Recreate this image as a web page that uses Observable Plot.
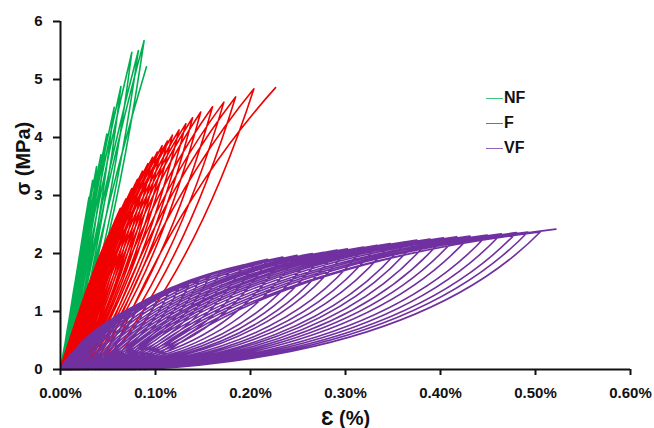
<!DOCTYPE html>
<html>
<head>
<meta charset="utf-8">
<script src="https://cdn.jsdelivr.net/npm/d3@7"></script>
<script src="https://cdn.jsdelivr.net/npm/@observablehq/plot@0.6"></script>
<style>
  html, body { margin: 0; padding: 0; background: #fff; }
  #wrap { position: relative; width: 654px; height: 428px; overflow: hidden; font-family: "Liberation Sans", Arial, sans-serif; }
  .leg { position: absolute; font-weight: bold; font-size: 16px; color: #111; line-height: 16px; }
  .legline { position: absolute; height: 0; border-top: 1.5px solid; opacity: 0.75; }
</style>
</head>
<body>
<div id="wrap"></div>
<script>
// ---- Data ----
const seriesNames = ["NF", "F", "VF"];
const seriesColors = ["#00B050", "#F00000", "#7030A0"];

// NF: peak of each cycle and residual strain at the start of each loading
const nfPeakStrain = [0.006, 0.010, 0.014, 0.018, 0.0215, 0.0245, 0.0268, 0.030, 0.0338, 0.038, 0.0425, 0.0488, 0.0565, 0.0636, 0.0751, 0.082, 0.088, 0.0905];
const nfPeakStress = [0.55, 0.95, 1.35, 1.75, 2.11, 2.40, 2.65, 2.97, 3.26, 3.50, 3.70, 4.06, 4.52, 4.88, 5.47, 5.50, 5.67, 5.22];
const nfResidual   = [0, 0.001, 0.002, 0.002, 0.003, 0.003, 0.004, 0.004, 0.005, 0.005, 0.006, 0.006, 0.007, 0.008, 0.009, 0.010, 0.011, 0.012];

// F
const fPeakStrain = [0.010, 0.015, 0.020, 0.025, 0.030, 0.035, 0.040, 0.0443, 0.050, 0.0548, 0.0585, 0.063, 0.0688, 0.075, 0.081, 0.0863, 0.092, 0.097, 0.102, 0.107, 0.1126, 0.1178, 0.1248, 0.132, 0.139, 0.1476, 0.160, 0.172, 0.1843, 0.2036, 0.2264];
const fPeakStress = [0.48, 0.73, 0.98, 1.22, 1.45, 1.68, 1.88, 2.08, 2.30, 2.47, 2.60, 2.78, 2.94, 3.12, 3.28, 3.42, 3.55, 3.66, 3.75, 3.86, 3.94, 4.04, 4.13, 4.24, 4.34, 4.44, 4.53, 4.61, 4.70, 4.84, 4.86];
const fResidual   = [0, 0.001, 0.002, 0.003, 0.004, 0.005, 0.006, 0.007, 0.008, 0.009, 0.010, 0.011, 0.012, 0.013, 0.014, 0.015, 0.016, 0.017, 0.018, 0.019, 0.020, 0.021, 0.022, 0.024, 0.026, 0.028, 0.030, 0.033, 0.037, 0.042, 0.048];

// VF
const vfPeakStrain = [0.015, 0.025, 0.036, 0.047, 0.058, 0.069, 0.080, 0.091, 0.102, 0.113, 0.124, 0.135, 0.146, 0.157, 0.168, 0.180, 0.192, 0.205, 0.218, 0.234, 0.249, 0.265, 0.277, 0.291, 0.302, 0.319, 0.333, 0.347, 0.363, 0.375, 0.389, 0.403, 0.417, 0.431, 0.449, 0.464, 0.480, 0.492, 0.505, 0.5215];
const vfPeakStress = [0.22, 0.37, 0.52, 0.67, 0.81, 0.93, 1.04, 1.12, 1.22, 1.30, 1.38, 1.45, 1.53, 1.61, 1.68, 1.75, 1.80, 1.85, 1.90, 1.94, 1.97, 2.00, 2.02, 2.06, 2.08, 2.11, 2.14, 2.17, 2.20, 2.23, 2.25, 2.27, 2.29, 2.30, 2.32, 2.34, 2.36, 2.37, 2.37, 2.42];
const vfResidual   = [0, 0, 0.001, 0.002, 0.003, 0.003, 0.004, 0.005, 0.006, 0.007, 0.008, 0.009, 0.010, 0.012, 0.013, 0.015, 0.016, 0.018, 0.020, 0.023, 0.025, 0.028, 0.030, 0.033, 0.036, 0.038, 0.041, 0.044, 0.047, 0.050, 0.053, 0.056, 0.059, 0.062, 0.066, 0.070, 0.074, 0.078, 0.083, 0.088];

const xTicks = [0, 0.1, 0.2, 0.3, 0.4, 0.5, 0.6];
const yTicks = [0, 1, 2, 3, 4, 5, 6];
const xTitle = "Ɛ (%)";
const yTitle = "σ (MPa)";

// ---- Build loop sequences: residual -> peak -> next residual -> peak ...
function loopPoints(peakStrain, peakStress, residual) {
  const pts = [];
  peakStrain.forEach((e, i) => {
    pts.push({strain: residual[i], stress: 0});
    pts.push({strain: e, stress: peakStress[i]});
  });
  return pts;
}

// Custom curve: loading branches bow up-left, unloading branches bow down-right
function lensCurve(la, lb, ua, ub) {
  return function (context) {
    let pts = [];
    return {
      areaStart() {}, areaEnd() {},
      lineStart() { pts = []; },
      point(x, y) { pts.push([+x, +y]); },
      lineEnd() {
        if (!pts.length) return;
        context.moveTo(pts[0][0], pts[0][1]);
        for (let i = 1; i < pts.length; i++) {
          const [x0, y0] = pts[i - 1], [x1, y1] = pts[i];
          let cx, cy;
          if (y1 < y0) { // loading: bottom (x0,y0) -> top (x1,y1)
            cx = x0 + la * (x1 - x0); cy = y0 + lb * (y1 - y0);
          } else { // unloading: top (x0,y0) -> bottom (x1,y1)
            cx = x1 + ua * (x0 - x1); cy = y1 + ub * (y0 - y1);
          }
          context.quadraticCurveTo(cx, cy, x1, y1);
        }
      }
    };
  };
}

const nfPts = loopPoints(nfPeakStrain, nfPeakStress, nfResidual);
const fPts = loopPoints(fPeakStrain, fPeakStress, fResidual);
const vfPts = loopPoints(vfPeakStrain, vfPeakStress, vfResidual);

const chart = Plot.plot({
  width: 654,
  height: 428,
  marginLeft: 60,
  marginRight: 24,
  marginTop: 21,
  marginBottom: 59,
  x: {domain: [0, 0.6]},
  y: {domain: [0, 6]},
  style: {fontFamily: "'Liberation Sans', Arial, sans-serif", fontSize: "15px", background: "white", color: "#111"},
  marks: [
    Plot.line(nfPts, {x: "strain", y: "stress", stroke: seriesColors[0], strokeWidth: 1.6, curve: lensCurve(0.45, 0.55, 0.6, 0.4)}),
    Plot.line(fPts, {x: "strain", y: "stress", stroke: seriesColors[1], strokeWidth: 1.6, curve: lensCurve(0.4, 0.6, 0.6, 0.35)}),
    Plot.line(vfPts, {x: "strain", y: "stress", stroke: seriesColors[2], strokeWidth: 1.6, curve: lensCurve(0.3, 0.75, 0.7, 0.12)}),
    Plot.ruleX([0], {stroke: "#111", strokeWidth: 2}),
    Plot.ruleY([0], {stroke: "#111", strokeWidth: 2}),
    Plot.axisX({ticks: xTicks, tickFormat: d => d.toFixed(2) + "%", tickSize: 6, tickPadding: 12, fontWeight: "bold", label: null, strokeWidth: 2}),
    Plot.axisY({ticks: yTicks, tickFormat: d => String(d), tickSize: 7, tickPadding: 11, fontWeight: "bold", label: null, strokeWidth: 2}),
    Plot.text([xTitle], {frameAnchor: "bottom", dy: 55, fontSize: 20, fontWeight: "bold", fill: "#111"}),
    Plot.text([yTitle], {frameAnchor: "left", dx: -37, rotate: -90, fontSize: 20, fontWeight: "bold", fill: "#111"})
  ]
});

const wrap = document.getElementById("wrap");
wrap.appendChild(chart);

// Legend overlay
seriesNames.forEach((name, i) => {
  const top = 98 + i * 25;
  const line = document.createElement("div");
  line.className = "legline";
  line.style.left = "486px";
  line.style.top = top + "px";
  line.style.width = "17px";
  line.style.borderTopColor = seriesColors[i];
  wrap.appendChild(line);
  const lab = document.createElement("div");
  lab.className = "leg";
  lab.style.left = "504px";
  lab.style.top = (top - 8) + "px";
  lab.textContent = name;
  wrap.appendChild(lab);
});
</script>
</body>
</html>
